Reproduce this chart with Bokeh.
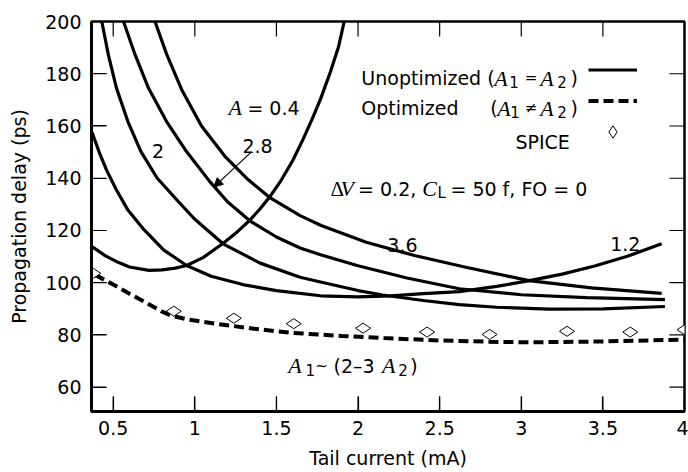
import math
from bokeh.plotting import figure
from bokeh.models import (Range1d, Label, Arrow, NormalHead, FixedTicker,
                          Legend, LegendItem)
from bokeh.core.properties import value
from bokeh.embed import file_html
from bokeh.resources import INLINE

# ---------------- data ----------------
x_ticks = [0.5, 1, 1.5, 2, 2.5, 3, 3.5, 4]
x_tick_labels = ["0.5", "1", "1.5", "2", "2.5", "3", "3.5", "4"]
y_ticks = [60, 80, 100, 120, 140, 160, 180, 200]
X0, X1 = 0.367, 4.0
Y0, Y1 = 50.7, 200.0

# A = 0.4 (unoptimized)
a04_x = [0.37, 0.45, 0.53, 0.6, 0.72, 0.8, 0.88, 0.95, 1.05, 1.17, 1.25, 1.335, 1.40,
         1.457, 1.53, 1.6, 1.66, 1.72, 1.77, 1.83, 1.88, 1.915]
a04_y = [113.8, 110.4, 107.8, 106.0, 104.7, 104.9, 105.6, 106.6, 109.6, 114.9, 118.9,
         123.8, 128.3, 132.7, 139.3, 146.8, 154.5, 162.8, 170.3, 180.6, 190.2, 200.0]

# A = 1.2
a12_x = [0.37, 0.42, 0.46, 0.52, 0.59, 0.69, 0.81, 0.95, 1.1, 1.3, 1.5, 1.77, 2.0, 2.2,
         2.4, 2.62, 2.85, 3.05, 3.25, 3.45, 3.65, 3.86]
a12_y = [157.6, 149.0, 143.0, 135.5, 127.8, 120.2, 112.5, 106.6, 102.5, 99.2, 97.0, 95.0,
         94.6, 95.0, 95.8, 96.6, 98.6, 100.8, 103.3, 106.4, 110.1, 114.9]

# A = 2
a2_x = [0.43, 0.47, 0.52, 0.59, 0.67, 0.77, 0.9, 1.0, 1.173, 1.4, 1.645, 1.77, 2.0,
        2.15, 2.4, 2.62, 2.85, 3.17, 3.5, 3.88]
a2_y = [200.0, 187.3, 174.5, 161.7, 150.2, 140.0, 131.0, 124.3, 114.9, 107.5, 102.1,
        100.3, 97.0, 95.3, 93.2, 91.6, 90.6, 89.9, 90.0, 90.9]

# A = 2.8
a28_x = [0.563, 0.634, 0.716, 0.827, 0.949, 1.092, 1.2, 1.335, 1.5, 1.645, 1.77, 2.0,
         2.3, 2.62, 3.0, 3.4, 3.88]
a28_y = [200.0, 187.3, 174.5, 161.7, 150.2, 138.7, 131.0, 123.8, 117.5, 113.3, 110.7,
         106.5, 101.8, 97.7, 95.4, 94.3, 93.5]

# A = 3.6
a36_x = [0.756, 0.827, 0.919, 1.041, 1.183, 1.326, 1.457, 1.645, 1.774, 2.05, 2.346,
         2.66, 3.047, 3.43, 3.86]
a36_y = [200.0, 187.5, 174.0, 160.0, 148.5, 139.5, 132.7, 125.7, 121.9, 115.5, 110.4,
         105.9, 100.8, 98.0, 95.9]

# Optimized (A1 != A2)
opt_x = [0.39, 0.5, 0.6, 0.7, 0.8, 0.86, 0.95, 1.05, 1.2, 1.4, 1.6, 1.9, 2.16, 2.5, 2.8,
         3.05, 3.4, 3.7, 4.0]
opt_y = [103.0, 99.3, 95.8, 92.4, 88.9, 87.3, 86.0, 85.0, 83.7, 82.1, 80.8, 79.6, 78.8,
         77.9, 77.4, 77.2, 77.4, 77.8, 78.2]

# SPICE points
spice_x = [0.378, 0.871, 1.239, 1.606, 2.031, 2.423, 2.806, 3.28, 3.668, 4.0]
spice_y = [103.6, 89.1, 86.4, 84.3, 82.6, 81.1, 80.2, 81.4, 81.1, 82.0]

SANS = "DejaVu Sans"
SERIF = "Liberation Serif"
FS = "19px"
FRAME_W, FRAME_H = 593, 390

p = figure(width=688, height=472, x_range=Range1d(X0, X1), y_range=Range1d(Y0, Y1),
           output_backend="svg", toolbar_location=None,
           min_border_left=91, min_border_right=4, min_border_top=21, min_border_bottom=61,
           background_fill_color="white", border_fill_color="white")
p.grid.visible = False
p.outline_line_color = "black"
p.outline_line_width = 2.5

for ax in (p.xaxis[0], p.yaxis[0]):
    ax.major_tick_in = 15
    ax.major_tick_out = 0
    ax.major_tick_line_width = 1.2
    ax.minor_tick_in = 0
    ax.minor_tick_out = 0
    ax.axis_line_width = 3
    ax.major_label_text_font = SANS
    ax.major_label_text_font_size = FS
    ax.major_label_text_color = "black"
    ax.axis_label_text_font = SANS
    ax.axis_label_text_font_size = FS
    ax.axis_label_text_font_style = "normal"
    ax.axis_label_text_color = "black"

p.xaxis.ticker = FixedTicker(ticks=x_ticks)
p.xaxis.major_label_overrides = {t: l for t, l in zip(x_ticks, x_tick_labels)}
p.xaxis.major_label_standoff = 9
p.xaxis.axis_label = "Tail current (mA)"
p.xaxis.axis_label_standoff = 9
p.yaxis.ticker = FixedTicker(ticks=y_ticks)
p.yaxis.major_label_standoff = 10
p.yaxis.axis_label = "Propagation delay (ps)"
p.yaxis.axis_label_standoff = 12

# inward tick marks on all four sides, 15 px long
TX = 15 * (X1 - X0) / FRAME_W
TY = 15 * (Y1 - Y0) / FRAME_H
ny, nx = len(y_ticks), len(x_ticks)
TKS = dict(line_color="black", line_width=1.2)
p.segment([X0] * ny, y_ticks, [X0 + TX] * ny, y_ticks, **TKS)
p.segment([X1 - TX] * ny, y_ticks, [X1] * ny, y_ticks, **TKS)
p.segment(x_ticks, [Y0] * nx, x_ticks, [Y0 + TY] * nx, **TKS)
p.segment(x_ticks, [Y1 - TY] * nx, x_ticks, [Y1] * nx, **TKS)

LW = 3.2
r_u = p.line(a04_x, a04_y, line_width=LW, color="black")
p.line(a12_x, a12_y, line_width=LW, color="black")
p.line(a2_x, a2_y, line_width=LW, color="black")
p.line(a28_x, a28_y, line_width=LW, color="black")
p.line(a36_x, a36_y, line_width=LW, color="black")
r_o = p.line(opt_x, opt_y, line_width=4, color="black", line_dash="10 5")
r_s = p.scatter(spice_x, spice_y, marker="diamond", size=15, angle=math.pi / 2,
                fill_color="white", line_color="black", line_width=1)

leg = Legend(items=[LegendItem(label=value(" "), renderers=[r_u]),
                    LegendItem(label=value(" "), renderers=[r_o]),
                    LegendItem(label=value(" "), renderers=[r_s])],
             location=(497, 264), orientation="vertical", glyph_width=49, glyph_height=31,
             spacing=0, padding=0, margin=0, label_standoff=0, label_width=0,
             label_height=0, label_text_font_size="1px", border_line_alpha=0,
             background_fill_alpha=0)
p.add_layout(leg)


def txt(x, y, t, font=SANS, size=FS, style="normal", align="left", yoff=0):
    p.add_layout(Label(x=x, y=y, text=t, text_font=font, text_font_size=size,
                       text_font_style=style, text_align=align,
                       text_baseline="alphabetic", y_offset=yoff, text_color="black"))


SUB = "15px"
SER = "22px"
# legend row 1
txt(2.020, 178.2, "Unoptimized (")
txt(2.835, 178.2, "A", SERIF, SER, "italic")
txt(2.927, 178.2, "1", size=SUB, yoff=-4)
txt(3.022, 178.2, "=", size="15px")
txt(3.117, 178.2, "A", SERIF, SER, "italic")
txt(3.221, 178.2, "2", size=SUB, yoff=-4)
txt(3.301, 178.2, ")")
# legend row 2
txt(2.020, 166.7, "Optimized")
txt(2.810, 166.7, "(")
txt(2.853, 166.7, "A", SERIF, SER, "italic")
txt(2.933, 166.7, "1", size=SUB, yoff=-4)
txt(3.022, 166.7, "\u2260", size="15px")
txt(3.117, 166.7, "A", SERIF, SER, "italic")
txt(3.221, 166.7, "2", size=SUB, yoff=-4)
txt(3.301, 166.7, ")")
# legend row 3
txt(2.964, 153.9, "SPICE")

# curve labels
txt(1.206, 167.0, "A", SERIF, SER, "italic")
txt(1.322, 167.0, "= 0.4")
txt(0.774, 150.3, "2", align="center")
txt(1.384, 152.3, "2.8", align="center")
txt(2.272, 114.6, "3.6", align="center")
txt(3.637, 114.9, "1.2", align="center")
p.add_layout(Arrow(end=NormalHead(size=9, fill_color="black", line_color="black",
                                  line_width=1),
                   x_start=1.342, y_start=149.8, x_end=1.116, y_end=136.6,
                   line_width=1.2, line_color="black"))

# condition text
txt(1.831, 135.9, "\u0394", SERIF, "21px")
txt(1.892, 135.9, "V", SERIF, SER, "italic")
txt(2.000, 135.9, "= 0.2,")
txt(2.394, 135.9, "C", SERIF, SER, "italic")
txt(2.486, 135.9, "L", size=SUB, yoff=-4)
txt(2.566, 135.9, "= 50 f, FO = 0")

# optimized-ratio text
txt(1.572, 68.3, "A", SERIF, SER, "italic")
txt(1.678, 68.3, "1", size=SUB, yoff=-4)
txt(1.738, 68.3, "~", size="15px")
txt(1.850, 68.3, "(2\u20133")
txt(2.147, 68.3, "A", SERIF, SER, "italic")
txt(2.247, 68.3, "2", size=SUB, yoff=-4)
txt(2.320, 68.3, ")")

open("out.html", "w").write(file_html(p, INLINE))
